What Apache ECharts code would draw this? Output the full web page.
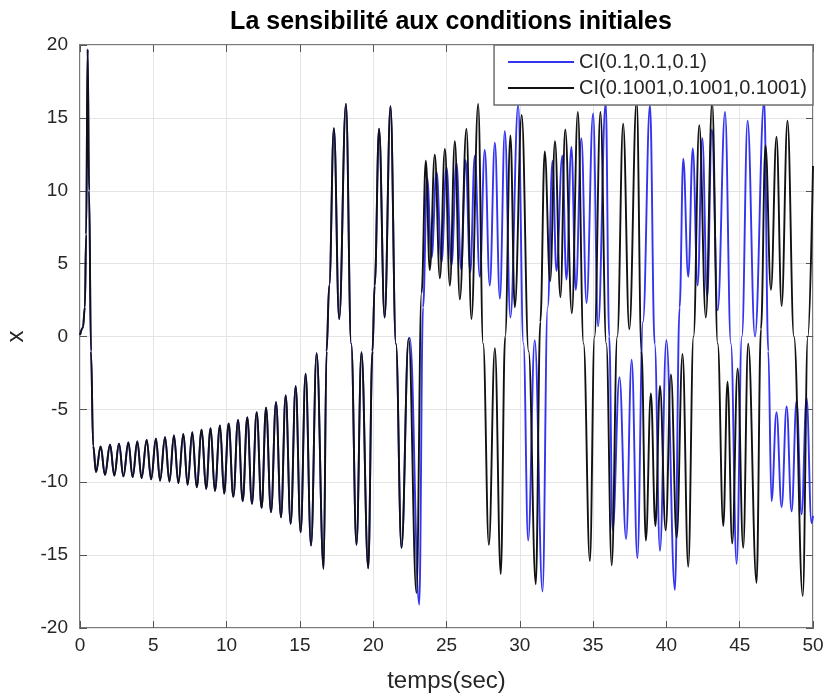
<!DOCTYPE html>
<html>
<head>
<meta charset="utf-8">
<script src="https://cdn.jsdelivr.net/npm/echarts@6/dist/echarts.min.js"></script>
<style>
  html, body { margin: 0; padding: 0; background: #fff; }
  #chart { width: 827px; height: 693px; }
</style>
</head>
<body>
<div id="chart"></div>
<script>
// extrema: both runs are identical until ~22.4 s
const commonT = [0, 0.2, 0.33, 0.42, 0.52, 0.62, 0.75, 0.9, 1.09,
  1.41, 1.70, 2.05, 2.34, 2.66, 2.96, 3.30, 3.59, 3.91, 4.20, 4.55, 4.85, 5.18, 5.46,
  5.80, 6.10, 6.41, 6.71, 7.05, 7.34, 7.66, 7.96, 8.30, 8.60, 8.91, 9.20, 9.55, 9.83,
  10.14, 10.46, 10.78, 11.10, 11.41, 11.73, 12.05, 12.39, 12.69, 13.03, 13.37, 13.71,
  14.03, 14.37, 14.71, 15.05, 15.39, 15.76, 16.14, 16.62,
  16.82, 17.0, 17.32, 17.68, 18.14, 18.5, 18.86, 19.2, 19.66, 19.95, 20.1, 20.4, 20.78,
  21.18, 21.55, 21.93, 22.42];
const commonX = [0.1, 0.6, 2, 7, 19.7, 10, -1, -7.5, -9.3,
  -7.55, -9.49, -7.43, -9.54, -7.36, -9.60, -7.27, -9.65, -7.20, -9.72, -7.09, -9.80, -7.02, -9.88,
  -6.91, -9.95, -6.79, -10.06, -6.68, -10.18, -6.56, -10.34, -6.40, -10.45, -6.29, -10.60, -6.10, -10.78,
  -5.97, -11.00, -5.72, -11.30, -5.53, -11.48, -5.19, -11.76, -4.89, -12.05, -4.50, -12.40,
  -4.05, -12.85, -3.41, -13.43, -2.56, -14.34, -1.14, -15.94,
  -1, 3.5, 14.3, 1.2, 15.95, -0.5, -14.3, -1.07, -15.9, -1, 3.5, 14.26, 1.3,
  15.8, -0.5, -14.5, -0.13];

const blueT = [22.5, 23.14, 23.4, 23.68, 23.98, 24.32, 24.66, 25.0, 25.34, 25.68, 26.0, 26.3,
  26.62, 26.93, 27.27, 27.61, 27.95, 28.3, 28.64, 28.98, 29.36, 29.89, 30.25, 30.57, 31.02,
  31.55, 31.9, 32.23, 32.5, 32.9, 33.18, 33.52, 33.82, 34.2, 34.55, 35.0, 35.34, 35.86, 36.1,
  36.33, 36.8, 37.25, 37.63, 38.02, 38.4, 38.88, 39.2, 39.56, 40.0, 40.58, 40.9, 41.15, 41.49,
  41.8, 42.13, 42.45, 42.78, 43.1, 43.5, 44.0, 44.4, 44.79, 45.15, 45.54, 46.04, 46.67, 46.95,
  47.17, 47.51, 47.86, 48.2, 48.54, 48.88, 49.22, 49.56, 49.9, 50.0];
const blueX = [-0.1, -18.4, 2, 10.9, 5.4, 11.3, 5.1, 11.6, 4.9, 11.9, 4.6, 12.1,
  4.4, 12.4, 4.1, 12.8, 3.5, 13.3, 2.6, 14.1, 1.3, 15.9, -0.5, -14.0, -0.26,
  -17.5, 2, 12.05, 4.5, 12.4, 3.9, 13.0, 3.2, 13.6, 2.3, 15.3, 0.7, 16.1, 0,
  -13.3, -2.8, -13.9, -1.6, -15.2, 1, 15.9, -0.5, -14.7, -0.26, -17.4, 2, 12.2, 4.1,
  12.9, 3.5, 13.6, 2.7, 14.2, 1.8, 15.4, -0.5, -15.6, 0, 14.8, 0.0, 16.2, -1,
  -11.3, -5.2, -11.7, -4.8, -12.0, -4.4, -12.2, -4.2, -12.8, -12.3];

const blackT = [22.95, 23.3, 23.59, 23.86, 24.2, 24.55, 24.89, 25.23, 25.57, 25.91, 26.36,
  26.7, 27.16, 27.5, 27.89, 28.3, 28.7, 29.0, 29.36, 29.66, 30.13, 30.6, 31.09, 31.4, 31.7,
  32.07, 32.4, 32.77, 33.1, 33.55, 33.96, 34.35, 34.78, 35.1, 35.5, 35.9, 36.27, 36.65, 37.05,
  37.47, 37.97, 38.3, 38.6, 38.94, 39.25, 39.56, 39.95, 40.31, 40.7, 41.1, 41.49, 41.85, 42.24,
  42.69, 43.12, 43.5, 43.88, 44.17, 44.49, 44.86, 45.24, 45.58, 46.15, 46.45, 46.76, 47.13,
  47.51, 47.86, 48.26, 48.7, 49.3, 49.65, 50.0];
const blackX = [-17.6, 3, 12.06, 4.56, 12.47, 4.0, 12.87, 3.49, 13.4, 2.55, 14.26,
  1.2, 15.95, -0.5, -14.3, -0.8, -16.3, 0, 13.8, 2.0, 15.2, -1, -17.0, 1, 12.7,
  3.8, 13.4, 2.7, 14.2, 1.6, 15.4, -0.5, -15.4, 0, 15.4, -0.5, -15.7, 0, 14.6,
  0.5, 16.2, -1, -14.0, -3.9, -13.0, -3.4, -13.3, -2.6, -13.8, -1.2, -15.8, 0, 14.5,
  1.3, 16.1, -0.5, -13.0, -3.1, -14.2, -2.2, -14.5, -0.5, -16.9, 0.5, 13.1, 3.2,
  13.7, 2.1, 14.8, 0, -17.8, 0, 11.7];

const xTicks = [0, 50, 5];
const yTicks = [-20, 20, 5];
const names = ['CI(0.1,0.1,0.1)', 'CI(0.1001,0.1001,0.1001)'];

function zip(t, v) { return t.map((tt, i) => [tt, v[i]]); }
const common = zip(commonT, commonX);
const blueData = common.concat(zip(blueT, blueX));
const blackData = common.concat(zip(blackT, blackX));

const font = '"Liberation Sans", Arial, sans-serif';
const lab = { color: '#262626', fontFamily: font, fontSize: 19 };
const tick = { inside: true, length: 7, lineStyle: { color: '#555' } };

let option = {
    animation: false,
    backgroundColor: '#fff',
    title: {
        text: 'La sensibilité aux conditions initiales',
        left: 446, top: 5, textAlign: 'center',
        textStyle: { fontFamily: font, fontSize: 25, fontWeight: 'bold', color: '#000' }
    },
    legend: {
        data: names,
        orient: 'vertical',
        right: 14, top: 45,
        icon: 'rect', itemWidth: 66, itemHeight: 2, itemGap: 6,
        padding: [7, 6, 7, 14],
        backgroundColor: '#fff',
        borderColor: '#6e6e6e', borderWidth: 1.5,
        textStyle: { fontFamily: font, fontSize: 20, color: '#262626' }
    },
    grid: {
        left: 80, top: 45, width: 733, height: 583,
        outerBoundsMode: 'none',
        show: true, borderColor: '#7a7a7a', borderWidth: 2
    },
    xAxis: [{
        type: 'value', min: xTicks[0], max: xTicks[1], interval: xTicks[2],
        name: 'temps(sec)', nameLocation: 'middle', nameGap: 41,
        nameTextStyle: { fontFamily: font, fontSize: 24, color: '#262626' },
        axisLine: { show: false, onZero: false },
        axisTick: tick,
        axisLabel: Object.assign({ margin: 8 }, lab),
        splitLine: { lineStyle: { color: '#e4e4e4', width: 1 } }
    }, {
        type: 'value', min: xTicks[0], max: xTicks[1], interval: xTicks[2], position: 'top',
        axisLine: { show: false, onZero: false }, axisLabel: { show: false }, splitLine: { show: false },
        axisTick: tick
    }],
    yAxis: [{
        type: 'value', min: yTicks[0], max: yTicks[1], interval: yTicks[2],
        name: 'x', nameLocation: 'middle', nameGap: 52, nameRotate: 90,
        nameTextStyle: { fontFamily: font, fontSize: 24, color: '#262626' },
        axisLine: { show: false, onZero: false },
        axisTick: tick,
        axisLabel: Object.assign({ margin: 12 }, lab),
        splitLine: { lineStyle: { color: '#e4e4e4', width: 1 } }
    }, {
        type: 'value', min: yTicks[0], max: yTicks[1], interval: yTicks[2], position: 'right',
        axisLine: { show: false, onZero: false }, axisLabel: { show: false }, splitLine: { show: false },
        axisTick: tick
    }],
    series: [{
        name: names[0], type: 'line', data: blueData,
        showSymbol: false, smooth: 0.4, smoothMonotone: 'x',
        lineStyle: { color: '#3434ee', width: 1.9 }, itemStyle: { color: '#3434ee' }
    }, {
        name: names[1], type: 'line', data: blackData,
        showSymbol: false, smooth: 0.4, smoothMonotone: 'x',
        lineStyle: { color: '#111', width: 1.9 }, itemStyle: { color: '#111' }
    }]
};

let chart = echarts.init(document.getElementById('chart'), null, { renderer: 'canvas' });
chart.setOption(option);
</script>
</body>
</html>
